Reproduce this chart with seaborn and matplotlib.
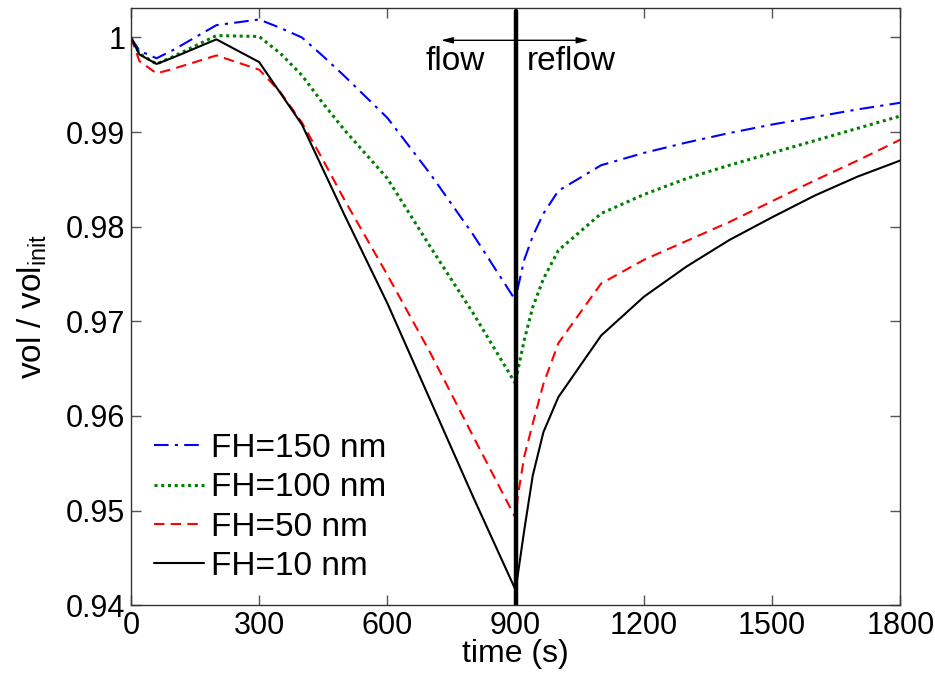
import numpy as np
import pandas as pd
import seaborn as sns
import matplotlib
matplotlib.use("Agg")
import matplotlib.pyplot as plt

# tempo (s) e volume relativo para cada altura de filme
time_s = [0, 20, 60, 100, 200, 300, 350, 400, 450, 500, 600, 700, 800, 900,
          905, 920, 940, 965, 1000, 1100, 1200, 1300, 1400, 1500, 1600, 1700, 1800]

fh150 = [1.0000, 0.9986, 0.9978, 0.9987, 1.0013, 1.0019, 1.0010, 1.0000, 0.9980, 0.9959,
         0.9915, 0.9856, 0.9792, 0.9722,
         0.9735, 0.9765, 0.9790, 0.9814, 0.9838, 0.9865, 0.9878, 0.9889, 0.9899, 0.9908,
         0.9916, 0.9924, 0.9931]
fh100 = [1.0000, 0.9983, 0.9972, 0.9980, 1.0002, 1.0001, 0.9983, 0.9960, 0.9930, 0.9902,
         0.9851, 0.9779, 0.9709, 0.9634,
         0.9648, 0.9680, 0.9715, 0.9745, 0.9775, 0.9814, 0.9834, 0.9851, 0.9865, 0.9878,
         0.9891, 0.9904, 0.9917]
fh50 = [1.0000, 0.9975, 0.9962, 0.9967, 0.9981, 0.9966, 0.9942, 0.9910, 0.9870, 0.9828,
        0.9749, 0.9667, 0.9579, 0.9492,
        0.9515, 0.9557, 0.9592, 0.9634, 0.9677, 0.9740, 0.9765, 0.9785, 0.9805, 0.9827,
        0.9849, 0.9870, 0.9892]
fh10 = [1.0000, 0.9982, 0.9972, 0.9979, 0.9998, 0.9974, 0.9941, 0.9908, 0.9860, 0.9812,
        0.9719, 0.9617, 0.9515, 0.9416,
        0.9432, 0.9479, 0.9537, 0.9583, 0.9620, 0.9685, 0.9726, 0.9758, 0.9786, 0.9810,
        0.9833, 0.9853, 0.9870]

labels = ["FH=150 nm", "FH=100 nm", "FH=50 nm", "FH=10 nm"]
series = [fh150, fh100, fh50, fh10]
colors = ["#0000ff", "#008000", "#ff0000", "#000000"]
styles = [(0, (7, 3, 1.5, 3)), (0, (1, 1.2)), (0, (5, 3)), "-"]
widths = [1.5, 2.2, 1.5, 1.5]

switch_t = 900
xticks = [0, 300, 600, 900, 1200, 1500, 1800]
yticks = [0.94, 0.95, 0.96, 0.97, 0.98, 0.99, 1.0]

sns.set_style("white")
plt.rcParams["font.family"] = ["Liberation Sans", "DejaVu Sans"]
plt.rcParams["mathtext.fontset"] = "custom"
plt.rcParams["mathtext.rm"] = "Liberation Sans"
plt.rcParams["mathtext.it"] = "Liberation Sans"
plt.rcParams["text.color"] = "black"
plt.rcParams["axes.labelcolor"] = "black"

fig = plt.figure(figsize=(9.35, 6.77), dpi=100)
ax = fig.add_axes([0.140, 0.106, 0.823, 0.882])

for lab, vals, c, ls, lw in zip(labels, series, colors, styles, widths):
    sns.lineplot(x=time_s, y=vals, color=c, linestyle=ls, linewidth=lw, label=lab, ax=ax)

# linha que separa flow / reflow
ax.axvline(switch_t, ymin=0, ymax=0.995, color="black", linewidth=3.2)
ax.annotate("", xy=(725, 0.9997), xytext=(1071, 0.9997),
            arrowprops=dict(arrowstyle="<|-|>,head_length=0.7,head_width=0.18",
                            color="black", lw=1.0, shrinkA=0, shrinkB=0))
ax.text(758, 0.99745, "flow", fontsize=24, ha="center", va="center")
ax.text(1030, 0.99745, "reflow", fontsize=24, ha="center", va="center")

ax.set_xlim(0, 1800)
ax.set_ylim(0.94, 1.0031)
ax.set_xticks(xticks)
ax.set_yticks(yticks)
ax.set_yticklabels(["0.94", "0.95", "0.96", "0.97", "0.98", "0.99", "1"])
ax.tick_params(direction="in", length=7, width=1, color="#555555", labelcolor="black",
               labelsize=22, top=True, right=True, bottom=True, left=True, pad=4)
for sp in ax.spines.values():
    sp.set_color("#333333")
    sp.set_linewidth(1)

ax.set_xlabel("time (s)", fontsize=23, labelpad=-1)
ax.set_ylabel(r"vol / vol$_{\mathrm{init}}$", fontsize=24, labelpad=12)

ax.legend(loc="lower left", frameon=False, fontsize=24, handlelength=1.5,
          handletextpad=0.2, labelspacing=0.25, borderaxespad=0.3,
          bbox_to_anchor=(0.0, 0.0))

fig.savefig("out.png", dpi=100)
